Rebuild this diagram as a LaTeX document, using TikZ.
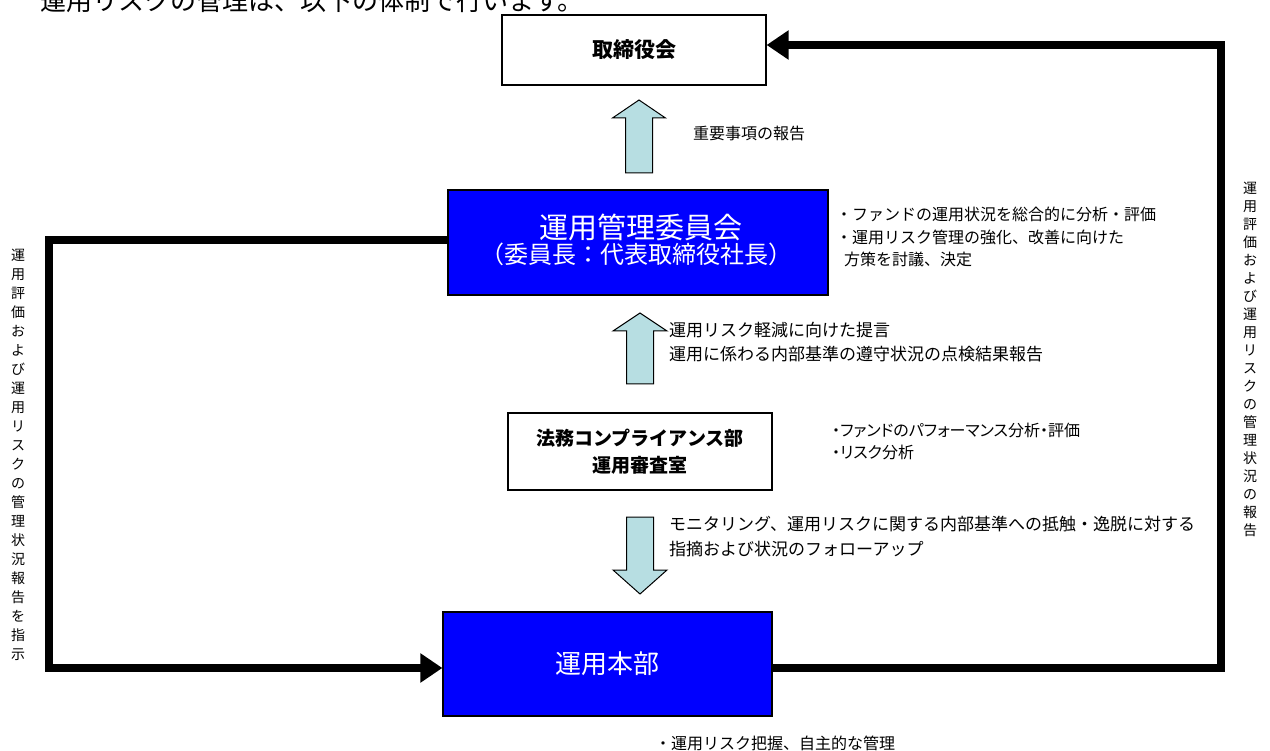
\documentclass[tikz,border=0pt]{standalone}
\usepackage{fontspec}
\setmainfont{Noto Sans CJK JP}
\newfontfamily\jpp[RawFeature=+palt]{Noto Sans CJK JP}
\usetikzlibrary{arrows.meta}
\definecolor{blueC}{HTML}{0000FF}
\definecolor{arrowC}{HTML}{B7DEE2}
\newcommand\fsz[2]{\fontsize{#1}{#2}\selectfont}
\tikzset{
  wbox/.style={draw=black, line width=1.2pt, fill=white, inner sep=0pt, rectangle, align=center},
  bbox/.style={draw=black, line width=1.2pt, fill=blueC, inner sep=0pt, rectangle, text=white, align=center},
  wtxt/.style={inner sep=0pt, text=white},
  conn/.style={line width=8pt, line join=miter, line cap=butt},
  tipC/.style={-{Triangle[length=22pt,width=28pt]}},
  blk/.style={draw=black, line width=1pt, fill=arrowC, line join=miter},
  lbl/.style={inner sep=0pt, anchor=west, align=left},
  vtxt/.style={inner sep=0pt, align=center},
}
\begin{document}
\begin{tikzpicture}[x=1pt,y=-1pt]
\useasboundingbox (0,0) rectangle (1270,751);
% title (cut at top, as in the reference)
\node[anchor=base west, inner sep=0pt, font=\fsz{26}{26}] (title) at (40,11) {運用リスクの管理は、以下の体制で行います。};
% boxes
\node[wbox, minimum width=264pt, minimum height=70pt, font=\bfseries\fsz{21}{21}] (board) at (634,50) {取締役会};
\node[bbox, minimum width=380pt, minimum height=105pt] (comm) at (638,242.5) {};
\node[wtxt, font=\fsz{29}{29}] (commA) at (641,227) {運用管理委員会};
\node[wtxt, font=\fsz{24}{24}] (commB) at (636,254) {（委員長：代表取締役社長）};
\node[wbox, minimum width=264pt, minimum height=77pt, font=\bfseries\fsz{19}{27}] (comp) at (640,451.5) {法務コンプライアンス部\\運用審査室};
\node[bbox, minimum width=329pt, minimum height=104pt, font=\fsz{26}{26}] (honbu) at (607.5,664) {運用本部};
% block arrows
\draw[blk] (625.5,173) -- (625.5,118) -- (612.5,118) -- (639,100) -- (665.5,118) -- (652.5,118) -- (652.5,173) -- cycle;
\draw[blk] (626.5,384) -- (626.5,331) -- (613,331) -- (640,313) -- (667,331) -- (653.5,331) -- (653.5,384) -- cycle;
\draw[blk] (626.5,517) -- (626.5,570) -- (613,570) -- (640,594) -- (667,570) -- (653.5,570) -- (653.5,517) -- cycle;
% connectors
\coordinate (L1) at (49,240);
\coordinate (L2) at (49,668);
\coordinate (R1) at (1221,668);
\coordinate (R2) at (1221,45);
\draw[conn, tipC] (comm.west |- L1) -- (L1) -- (L2) -- (honbu.west |- L2);
\draw[conn, tipC] (honbu.east |- R1) -- (R1) -- (R2) -- (board.east |- R2);
% labels
\node[lbl, font=\fsz{16}{16}] (l1) at (693,133) {重要事項の報告};
\node[lbl, anchor=north west, font=\fsz{16}{22.5}] (cdesc) at (836,207) {・ファンドの運用状況を総合的に分析・評価\\・運用リスク管理の強化、改善に向けた\\\hspace{0.5em}方策を討議、決定};
\node[lbl, anchor=north west, font=\fsz{17}{24}] (l2) at (669,322) {運用リスク軽減に向けた提言\\運用に係わる内部基準の遵守状況の点検結果報告};
\node[lbl, anchor=north west, font=\jpp\fsz{16}{22}] (pdesc) at (832,423) {・ファンドのパフォーマンス分析・評価\\・リスク分析};
\node[lbl, anchor=north west, font=\fsz{17}{25}] (l3) at (669,516) {モニタリング、運用リスクに関する内部基準への抵触・逸脱に対する\\指摘および状況のフォローアップ};
\node[lbl, font=\fsz{16}{16}] (hdesc) at (655,743) {・運用リスク把握、自主的な管理};
% vertical texts
\node[vtxt, font=\fsz{14}{19}] (vleft) at (18,455) {運\\用\\評\\価\\お\\よ\\び\\運\\用\\リ\\ス\\ク\\の\\管\\理\\状\\況\\報\\告\\を\\指\\示};
\node[vtxt, font=\fsz{14}{18}] (vright) at (1250,359) {運\\用\\評\\価\\お\\よ\\び\\運\\用\\リ\\ス\\ク\\の\\管\\理\\状\\況\\の\\報\\告};
\end{tikzpicture}
\end{document}
